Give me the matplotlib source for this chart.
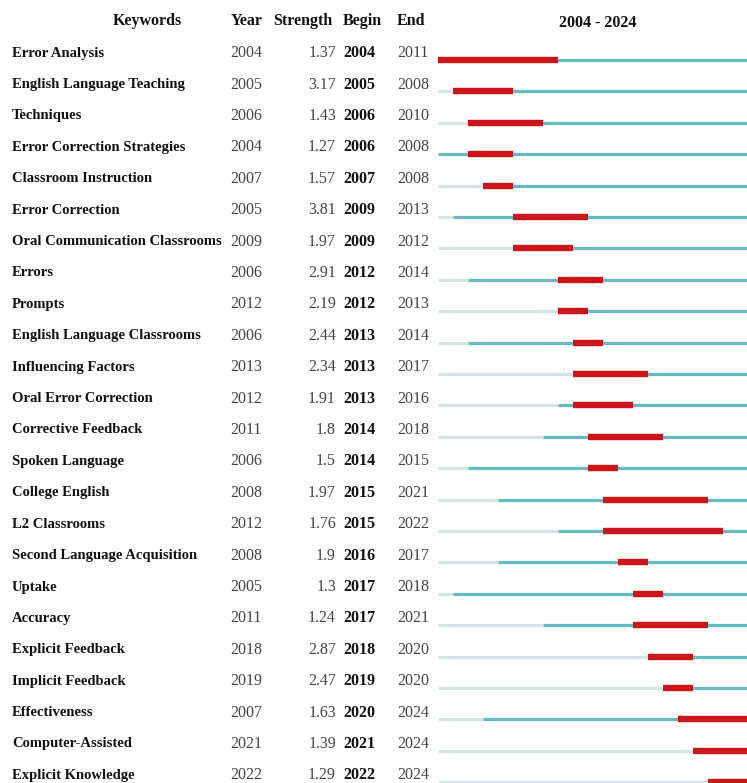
import matplotlib
matplotlib.use("Agg")
import matplotlib.pyplot as plt
import matplotlib.transforms as mtransforms

keywords = ["Error Analysis", "English Language Teaching", "Techniques", "Error Correction Strategies",
            "Classroom Instruction", "Error Correction", "Oral Communication Classrooms", "Errors",
            "Prompts", "English Language Classrooms", "Influencing Factors", "Oral Error Correction",
            "Corrective Feedback", "Spoken Language", "College English", "L2 Classrooms",
            "Second Language Acquisition", "Uptake", "Accuracy", "Explicit Feedback",
            "Implicit Feedback", "Effectiveness", "Computer-Assisted", "Explicit Knowledge"]
years = [2004, 2005, 2006, 2004, 2007, 2005, 2009, 2006, 2012, 2006, 2013, 2012,
         2011, 2006, 2008, 2012, 2008, 2005, 2011, 2018, 2019, 2007, 2021, 2022]
strengths = [1.37, 3.17, 1.43, 1.27, 1.57, 3.81, 1.97, 2.91, 2.19, 2.44, 2.34, 1.91,
             1.8, 1.5, 1.97, 1.76, 1.9, 1.3, 1.24, 2.87, 2.47, 1.63, 1.39, 1.29]
begins = [2004, 2005, 2006, 2006, 2007, 2009, 2009, 2012, 2012, 2013, 2013, 2013,
          2014, 2014, 2015, 2015, 2016, 2017, 2017, 2018, 2019, 2020, 2021, 2022]
ends = [2011, 2008, 2010, 2008, 2008, 2013, 2012, 2014, 2013, 2014, 2017, 2016,
        2018, 2015, 2021, 2022, 2017, 2018, 2021, 2020, 2020, 2024, 2024, 2024]
start_year, end_year = 2004, 2024

W, H = 747, 783
fig = plt.figure(figsize=(W / 100, H / 100), dpi=100)
fig.patch.set_facecolor("white")

px_per_year = 15.0
bar_left = 438
row0 = 60.0
row_step = 31.4
ax = fig.add_axes([bar_left / W, 0, (W - bar_left) / W, 1])
ax.set_xlim(start_year, start_year + (W - bar_left) / px_per_year)
ax.set_ylim((H - row0) / row_step, -row0 / row_step)
ax.axis("off")

light = "#d5e4e6"
teal = "#62bcc2"
red = "#cc1518"
for i in range(len(keywords)):
    ax.plot([start_year, years[i]], [i, i], color=light, lw=2.3, solid_capstyle="butt")
    ax.plot([years[i], end_year + 1], [i, i], color=teal, lw=2.3, solid_capstyle="butt")
    ax.plot([begins[i], ends[i] + 1], [i, i], color=red, lw=4.6, solid_capstyle="butt")

plt.rcParams["font.family"] = ["Liberation Serif", "DejaVu Serif"]
tr = mtransforms.blended_transform_factory(fig.transFigure, ax.transData)
off = -6.8 / row_step
fs_kw = 10.5
fs_num = 11.5
fs_head = 11.5
dark = "#111111"
grey = "#444444"
for i in range(len(keywords)):
    y = i + off
    ax.text(12 / W, y, keywords[i], transform=tr, fontsize=fs_kw, fontweight="bold",
            color=dark, ha="left", va="center")
    ax.text(230 / W, y, str(years[i]), transform=tr, fontsize=fs_num, color=grey,
            ha="left", va="center")
    ax.text(336 / W, y, f"{strengths[i]:g}", transform=tr, fontsize=fs_num, color=grey,
            ha="right", va="center")
    ax.text(343 / W, y, str(begins[i]), transform=tr, fontsize=fs_num, fontweight="bold",
            color=dark, ha="left", va="center")
    ax.text(397 / W, y, str(ends[i]), transform=tr, fontsize=fs_num, color=grey,
            ha="left", va="center")

hy = 1 - 21 / H
fig.text(147 / W, hy, "Keywords", fontsize=fs_head, fontweight="bold", color=dark, ha="center", va="center")
fig.text(231 / W, hy, "Year", fontsize=fs_head, fontweight="bold", color=dark, ha="left", va="center")
fig.text(273 / W, hy, "Strength", fontsize=fs_head, fontweight="bold", color=dark, ha="left", va="center")
fig.text(343 / W, hy, "Begin", fontsize=fs_head, fontweight="bold", color=dark, ha="left", va="center")
fig.text(397 / W, hy, "End", fontsize=fs_head, fontweight="bold", color=dark, ha="left", va="center")
fig.text(598 / W, 1 - 23 / H, f"{start_year} - {end_year}", fontsize=fs_head, fontweight="bold",
         color=dark, ha="center", va="center")

fig.savefig("out.png", dpi=100, facecolor="white")
